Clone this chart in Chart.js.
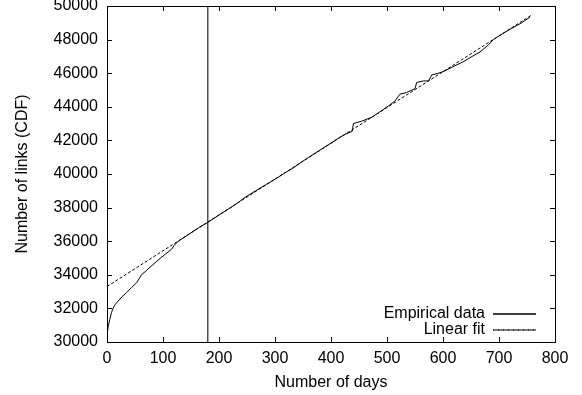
<!DOCTYPE html>
<html>
<head>
<meta charset="utf-8">
<script src="https://cdn.jsdelivr.net/npm/chart.js@4"></script>
<style>
  html, body { margin: 0; padding: 0; background: #fff; }
  #wrap { width: 582px; height: 395px; }
</style>
</head>
<body>
<div id="wrap"><canvas id="chart" width="582" height="395"></canvas></div>
<script>
// empirical link counts
const empDays = [0, 2, 5, 8, 11, 15, 20, 27, 35, 44, 53, 58, 62, 68, 75, 86, 95, 105, 115, 120,
  124, 131, 139, 150, 165, 180, 200, 220, 235, 245, 265, 285, 300, 320, 333, 345, 360, 380, 400,
  415, 425, 438, 440, 455, 473, 487, 505, 514, 523, 535, 550, 553, 565, 574, 580, 590, 600, 620,
  636, 650, 666, 680, 690, 702, 720, 740, 755];
const empLinks = [30400, 30900, 31350, 31750, 32020, 32250, 32440, 32700, 32940, 33250, 33530,
  33800, 34020, 34180, 34400, 34720, 34980, 35250, 35510, 35750, 35900, 36080, 36250, 36500,
  36830, 37120, 37560, 37980, 38320, 38580, 38990, 39390, 39690, 40110, 40370, 40660, 40990,
  41420, 41840, 42170, 42360, 42540, 43000, 43150, 43380, 43690, 44110, 44340, 44750, 44850,
  45080, 45450, 45540, 45540, 45900, 45980, 46090, 46420, 46680, 46960, 47260, 47650, 48000,
  48260, 48620, 48990, 49330];

// linear fit end points
const fitDays = [0, 760];
const fitLinks = [33300, 49500];

// vertical marker
const cutoffDay = 180;

const xRange = [0, 800, 100];
const yRange = [30000, 50000, 2000];

const FONT = "'Liberation Sans', Arial, Helvetica, sans-serif";
Chart.defaults.font.family = FONT;
Chart.defaults.font.size = 16;
Chart.defaults.color = '#000';

const toXY = (xs, ys) => xs.map((x, i) => ({x: x, y: ys[i]}));

// gnuplot-like frame with inward ticks
const framePlugin = {
  id: 'frame',
  afterLayout(chart) {
    const lg = chart.legend;
    if (!lg) return;
    const right = 536;
    lg.left = right - lg.width;
    lg.right = right;
    lg.bottom = 338;
  },
  afterDatasetsDraw(chart) {
    const {ctx, chartArea: a, scales} = chart;
    const len = 5;
    ctx.save();
    ctx.strokeStyle = '#000';
    ctx.lineWidth = 1;
    ctx.setLineDash([]);
    ctx.beginPath();
    scales.x.ticks.forEach(t => {
      const px = Math.round(scales.x.getPixelForValue(t.value)) + 0.5;
      ctx.moveTo(px, a.bottom); ctx.lineTo(px, a.bottom - len);
      ctx.moveTo(px, a.top); ctx.lineTo(px, a.top + len);
    });
    scales.y.ticks.forEach(t => {
      const py = Math.round(scales.y.getPixelForValue(t.value)) + 0.5;
      ctx.moveTo(a.left, py); ctx.lineTo(a.left + len, py);
      ctx.moveTo(a.right, py); ctx.lineTo(a.right - len, py);
    });
    ctx.stroke();
    ctx.strokeRect(a.left + 0.5, a.top + 0.5, a.right - a.left, a.bottom - a.top);
    ctx.restore();
  }
};

new Chart(document.getElementById('chart'), {
  type: 'line',
  data: {
    datasets: [
      {
        label: 'Empirical data',
        data: toXY(empDays, empLinks),
        borderColor: '#000',
        backgroundColor: 'transparent',
        borderWidth: 1,
        pointRadius: 0,
        tension: 0,
      },
      {
        label: 'Linear fit',
        data: toXY(fitDays, fitLinks),
        borderColor: '#000',
        backgroundColor: 'transparent',
        borderWidth: 1,
        borderDash: [3, 2],
        pointRadius: 0,
        tension: 0,
      },
      {
        label: 'cutoff',
        data: toXY([cutoffDay, cutoffDay], [yRange[0], yRange[1]]),
        borderColor: '#222',
        backgroundColor: 'transparent',
        borderWidth: 1.2,
        pointRadius: 0,
      },
    ]
  },
  options: {
    responsive: false,
    animation: false,
    events: [],
    layout: {padding: {left: 0, right: 27, top: 6, bottom: 0}},
    plugins: {
      tooltip: {enabled: false},
      legend: {
        position: 'chartArea',
        align: 'end',
        rtl: true,
        labels: {
          filter: item => item.text !== 'cutoff',
          boxWidth: 43,
          boxHeight: 0,
          padding: 0,
          color: '#000',
          font: {size: 16, lineHeight: 1},
        }
      }
    },
    scales: {
      x: {
        type: 'linear',
        min: xRange[0],
        max: xRange[1],
        grid: {display: false, drawTicks: false},
        border: {display: false},
        ticks: {stepSize: xRange[2], padding: 7, callback: v => String(v), maxRotation: 0},
        title: {display: true, text: 'Number of days', padding: {top: 0, bottom: 3}},
        afterFit: s => { s.height = 53; s.paddingLeft = 0; s.paddingRight = 0; },
      },
      y: {
        type: 'linear',
        min: yRange[0],
        max: yRange[1],
        grid: {display: false, drawTicks: false},
        border: {display: false},
        ticks: {stepSize: yRange[2], padding: 9, callback: v => String(v)},
        title: {display: true, text: 'Number of links (CDF)', padding: {top: 13, bottom: 0}},
        afterFit: s => { s.width = 107; s.paddingTop = 0; s.paddingBottom = 0; },
      }
    }
  },
  plugins: [framePlugin]
});
</script>
</body>
</html>
